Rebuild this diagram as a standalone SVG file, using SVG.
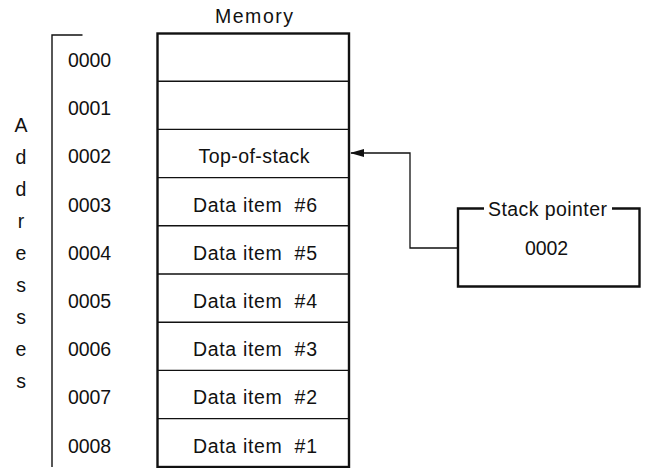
<svg xmlns="http://www.w3.org/2000/svg" width="646" height="468" viewBox="0 0 646 468">
<defs>
<style>
text{font-family:"Liberation Sans",Arial,sans-serif;font-size:19.5px;fill:#111}
.m{text-anchor:middle}
.thick{fill:none;stroke:#111;stroke-width:2.4}
.thin{fill:none;stroke:#111;stroke-width:1.4}
.conn{fill:none;stroke:#111;stroke-width:1.3}
</style>
<marker id="ah" markerWidth="14" markerHeight="8" refX="13" refY="4" orient="auto" markerUnits="userSpaceOnUse">
<path d="M0,0 L14,4 L0,8 Z" fill="#111"/>
</marker>
</defs>
<rect width="646" height="468" fill="#fff"/>

<g id="addresses-label">
<path class="thin" d="M82.5,35 H52 V467"/>
<text class="m" x="21" y="132">A</text>
<text class="m" x="21" y="164">d</text>
<text class="m" x="21" y="196">d</text>
<text class="m" x="21" y="228">r</text>
<text class="m" x="21" y="260">e</text>
<text class="m" x="21" y="292">s</text>
<text class="m" x="21" y="324">s</text>
<text class="m" x="21" y="356">e</text>
<text class="m" x="21" y="388">s</text>
</g>

<g id="address-values">
<text x="68" y="67" textLength="43">0000</text>
<text x="68" y="115.2" textLength="43">0001</text>
<text x="68" y="163.4" textLength="43">0002</text>
<text x="68" y="211.6" textLength="43">0003</text>
<text x="68" y="259.8" textLength="43">0004</text>
<text x="68" y="308" textLength="43">0005</text>
<text x="68" y="356.2" textLength="43">0006</text>
<text x="68" y="404.4" textLength="43">0007</text>
<text x="68" y="452.6" textLength="43">0008</text>
</g>

<g id="memory">
<text class="m" x="254" y="23" textLength="78">Memory</text>
<rect class="thick" x="157.5" y="33.5" width="191.5" height="433.5"/>
<path class="thin" d="M157.5,81.2 H349 M157.5,129.4 H349 M157.5,177.6 H349 M157.5,225.8 H349 M157.5,274 H349 M157.5,322.2 H349 M157.5,370.4 H349 M157.5,418.6 H349"/>
<text class="m" x="254" y="163.4" textLength="111">Top-of-stack</text>
<text class="m" x="255" y="211.6" textLength="124" xml:space="preserve">Data item  #6</text>
<text class="m" x="255" y="259.8" textLength="124" xml:space="preserve">Data item  #5</text>
<text class="m" x="255" y="308" textLength="124" xml:space="preserve">Data item  #4</text>
<text class="m" x="255" y="356.2" textLength="124" xml:space="preserve">Data item  #3</text>
<text class="m" x="255" y="404.4" textLength="124" xml:space="preserve">Data item  #2</text>
<text class="m" x="255" y="452.6" textLength="124" xml:space="preserve">Data item  #1</text>
</g>

<g id="stack-pointer">
<path class="thick" d="M484,208.5 H458 V286.5 H639.5 V208.5 H612"/>
<text class="m" x="547.5" y="215.5" textLength="119">Stack pointer</text>
<text class="m" x="546.5" y="255" textLength="43">0002</text>
</g>

<g id="connectors">
<path class="conn" d="M458,248 H410 V153 H351" marker-end="url(#ah)"/>
</g>
</svg>
